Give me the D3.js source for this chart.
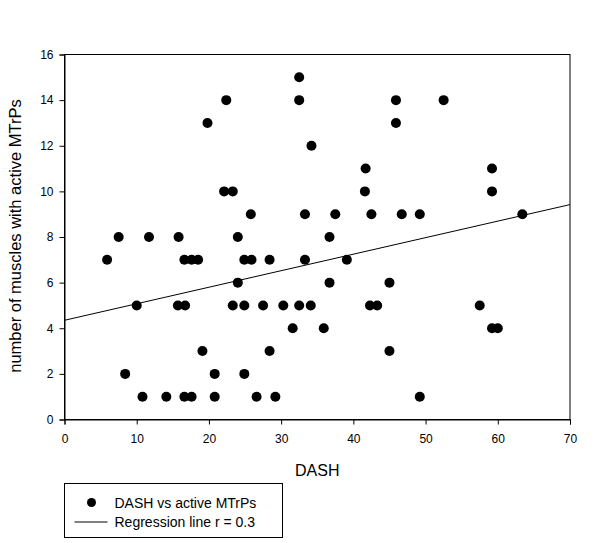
<!DOCTYPE html>
<html>
<head>
<meta charset="utf-8">
<script src="https://cdn.jsdelivr.net/npm/d3@7"></script>
<style>
  body { margin: 0; background: #fff; }
  text { font-family: "Liberation Sans", Arial, sans-serif; fill: #000; }
</style>
</head>
<body>
<div id="chart"></div>
<script>
"use strict";

// DASH score per patient and number of muscles with active MTrPs
var dash = [
  32.5,
  22.4, 32.5, 45.9, 52.5,
  19.8, 45.9,
  34.2,
  41.7, 59.2,
  22.1, 23.3, 41.6, 59.2,
  25.8, 33.3, 37.5, 42.5, 46.7, 49.2, 63.4,
  7.5, 11.7, 15.8, 24.0, 36.7,
  5.9, 16.6, 17.6, 18.5, 24.9, 25.9, 28.4, 33.3, 39.1,
  24.0, 36.7, 45.0,
  10.0, 15.7, 16.7, 23.3, 24.9, 27.5, 30.3, 32.5, 34.1, 42.3, 43.3, 57.5,
  31.6, 35.9, 59.2, 60.0,
  19.1, 28.4, 45.0,
  8.4, 20.8, 24.9,
  10.8, 14.1, 16.6, 17.6, 20.8, 26.6, 29.2, 49.2
];
var mtrps = [
  15,
  14, 14, 14, 14,
  13, 13,
  12,
  11, 11,
  10, 10, 10, 10,
  9, 9, 9, 9, 9, 9, 9,
  8, 8, 8, 8, 8,
  7, 7, 7, 7, 7, 7, 7, 7, 7,
  6, 6, 6,
  5, 5, 5, 5, 5, 5, 5, 5, 5, 5, 5, 5,
  4, 4, 4, 4,
  3, 3, 3,
  2, 2, 2,
  1, 1, 1, 1, 1, 1, 1, 1
];

// regression line end points (DASH, MTrPs)
var regX = [0, 70];
var regY = [4.35, 9.42];

var xTicks = [0, 10, 20, 30, 40, 50, 60, 70];
var yTicks = [0, 2, 4, 6, 8, 10, 12, 14, 16];

var legendLabels = ["DASH vs active MTrPs", "Regression line r = 0.3"];

function createScatter(containerId) {
  var totalW = 600, totalH = 543;
  var margin = {top: 54.5, right: 30, bottom: 123.5, left: 64.5};
  var width = totalW - margin.left - margin.right,
      height = totalH - margin.top - margin.bottom;

  var x = d3.scaleLinear().domain([0, 70]).range([0, width]);
  var y = d3.scaleLinear().domain([0, 16]).range([height, 0]);

  var svg = d3.select(containerId).append("svg")
      .attr("width", totalW)
      .attr("height", totalH);

  var g = svg.append("g")
      .attr("transform", "translate(" + margin.left + "," + margin.top + ")");

  // frame
  g.append("rect")
      .attr("width", width)
      .attr("height", height)
      .attr("fill", "none")
      .attr("stroke", "#000")
      .attr("stroke-width", 1);

  // axes
  var xAxis = g.append("g")
      .attr("transform", "translate(0," + height + ")")
      .call(d3.axisBottom(x).tickValues(xTicks).tickSize(5).tickPadding(10).tickFormat(d3.format("d")));
  var yAxis = g.append("g")
      .call(d3.axisLeft(y).tickValues(yTicks).tickSize(5).tickPadding(6).tickFormat(d3.format("d")));

  [xAxis, yAxis].forEach(function(a) {
    a.select(".domain").attr("stroke", "#000");
    a.selectAll(".tick line").attr("stroke", "#000");
    a.selectAll(".tick text")
      .attr("font-size", 12)
      .attr("font-family", "Liberation Sans, Arial, sans-serif");
  });

  // regression line
  g.append("line")
      .attr("x1", x(regX[0])).attr("y1", y(regY[0]))
      .attr("x2", x(regX[1])).attr("y2", y(regY[1]))
      .attr("stroke", "#000")
      .attr("stroke-width", 1);

  // points
  g.selectAll("circle.pt")
      .data(dash.map(function(d, i) { return {x: d, y: mtrps[i]}; }))
      .enter().append("circle")
      .attr("class", "pt")
      .attr("cx", function(d) { return x(d.x); })
      .attr("cy", function(d) { return y(d.y); })
      .attr("r", 5)
      .attr("fill", "#000");

  // axis titles
  svg.append("text")
      .attr("x", margin.left + width / 2)
      .attr("y", 476)
      .attr("text-anchor", "middle")
      .attr("font-size", 16)
      .text("DASH");

  svg.append("text")
      .attr("transform", "translate(21," + (margin.top + height / 2 - 1) + ") rotate(-90)")
      .attr("text-anchor", "middle")
      .attr("font-size", 16.5)
      .text("number of muscles with active MTrPs");

  // legend
  var lg = svg.append("g").attr("transform", "translate(64.5,483.5)");
  lg.append("rect")
      .attr("width", 218)
      .attr("height", 54)
      .attr("fill", "#fff")
      .attr("stroke", "#000");
  lg.append("circle")
      .attr("cx", 27).attr("cy", 19).attr("r", 4.5).attr("fill", "#000");
  lg.append("line")
      .attr("x1", 10).attr("x2", 43).attr("y1", 38.5).attr("y2", 38.5)
      .attr("stroke", "#000");
  lg.selectAll("text.leg")
      .data(legendLabels)
      .enter().append("text")
      .attr("class", "leg")
      .attr("x", 50)
      .attr("y", function(d, i) { return 24 + i * 19.5; })
      .attr("font-size", 14)
      .text(function(d) { return d; });
}

createScatter("#chart");
</script>
</body>
</html>
